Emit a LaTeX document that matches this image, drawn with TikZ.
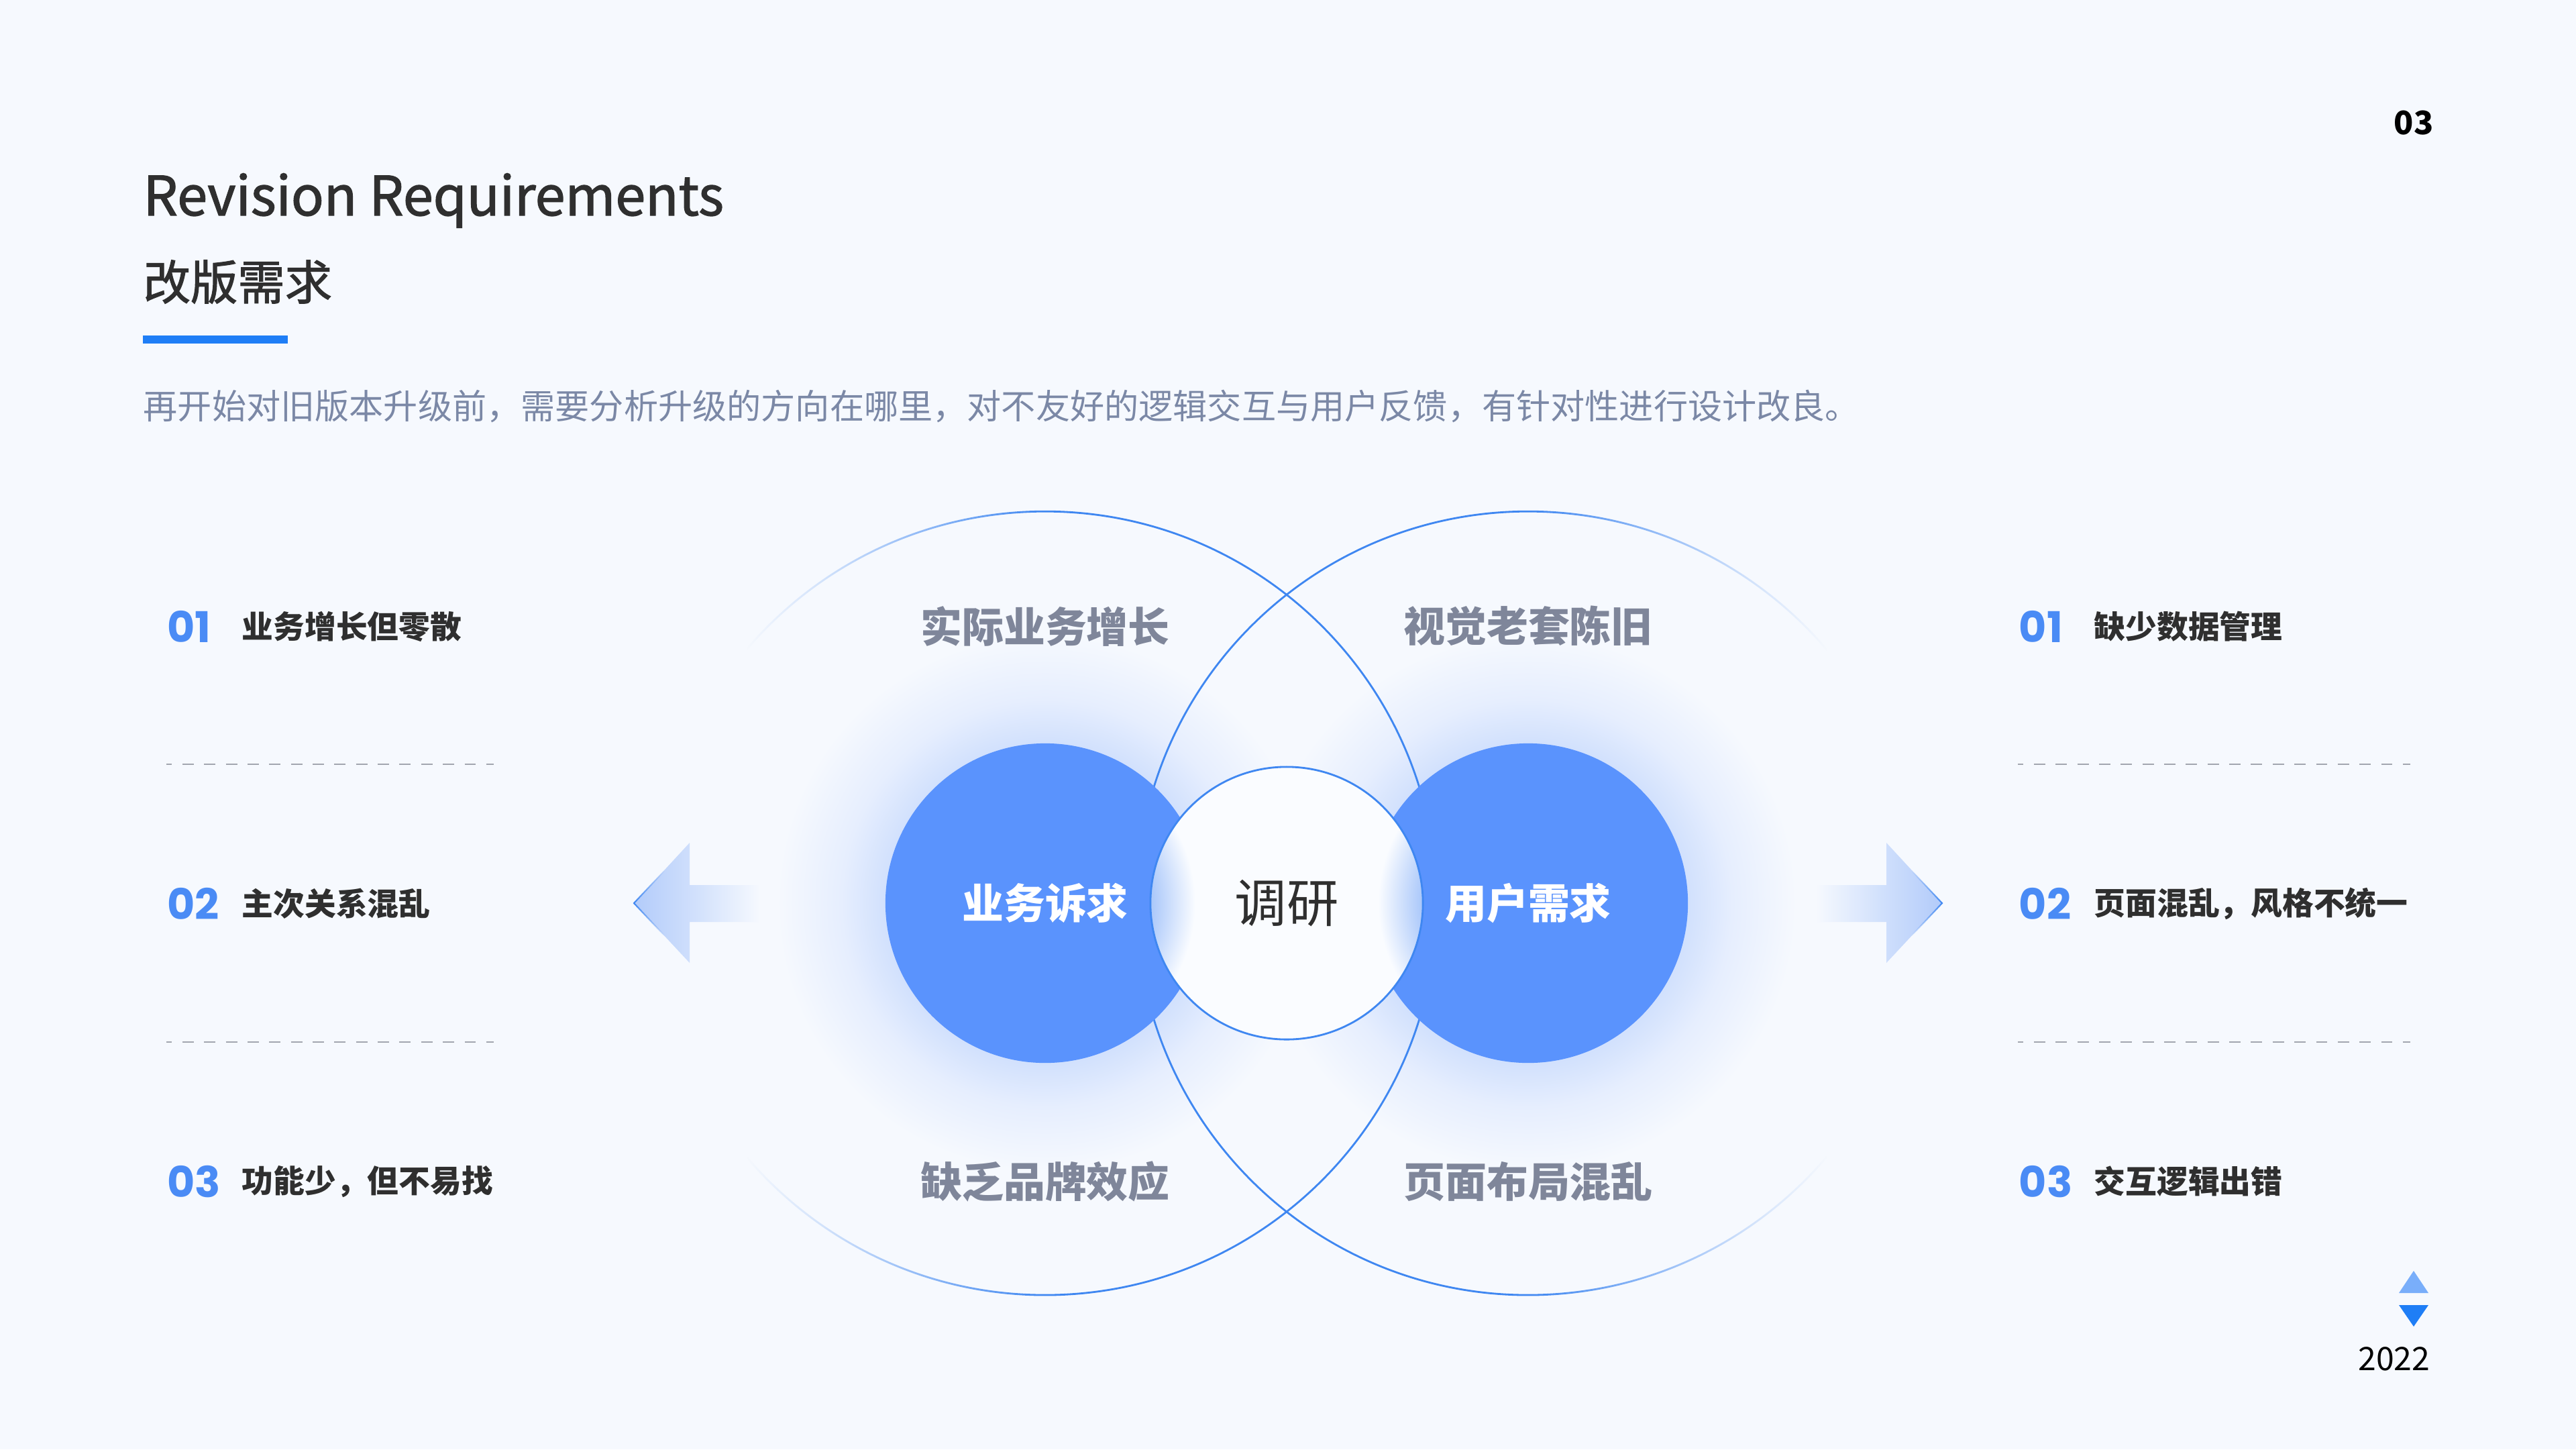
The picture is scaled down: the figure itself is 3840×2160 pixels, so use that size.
\documentclass[tikz,border=0pt]{standalone}
\usepackage{fontspec}
\setmainfont{Noto Sans CJK SC}
\newfontfamily\numfont{Poppins}
\newfontfamily\headfont{Noto Sans CJK SC}[FakeBold=1.6]
\usepackage{xcolor}
\usepackage{tikz}
\usetikzlibrary{fadings}
\definecolor{bgc}{HTML}{F6F9FE}
\definecolor{inkOne}{HTML}{2F2F2F}
\definecolor{inkTwo}{HTML}{7B88A6}
\definecolor{inkThree}{HTML}{7F869A}
\definecolor{barc}{HTML}{1F7EF6}
\definecolor{numc}{HTML}{4A8BF5}
\definecolor{ringc}{HTML}{3F87F1}
\definecolor{discc}{HTML}{5A93FD}
\definecolor{glowc}{HTML}{D2E1FD}
\definecolor{glowd}{HTML}{E6EEFE}
\definecolor{lensc}{HTML}{A9C7FA}
\definecolor{centc}{HTML}{FAFCFF}
\definecolor{arrA}{HTML}{B2CBFA}
\definecolor{arrB}{HTML}{D2E1FC}
\definecolor{dashc}{HTML}{A2A6AF}
\definecolor{triUp}{HTML}{79AEFA}
\pgfdeclareradialshading{glow}{\pgfpoint{0bp}{0bp}}{color(0bp)=(glowc); color(15bp)=(glowc); color(19bp)=(glowd);
  color(25bp)=(bgc); color(50bp)=(bgc)}
\pgfdeclareradialshading{lens}{\pgfpoint{0bp}{0bp}}{color(0bp)=(lensc); color(16.5bp)=(lensc); color(23.5bp)=(centc); color(50bp)=(centc)}
% ring masks: black = transparent, white = opaque
\pgfdeclarehorizontalshading{ringmaskL}{100bp}{color(0bp)=(black); color(31bp)=(black); color(36bp)=(black!80!white);
  color(43bp)=(black!40!white); color(50bp)=(white); color(100bp)=(white)}
\pgfdeclarehorizontalshading{ringmaskR}{100bp}{color(0bp)=(white); color(50bp)=(white); color(57bp)=(black!40!white);
  color(64bp)=(black!80!white); color(69bp)=(black); color(100bp)=(black)}
\pgfdeclarefading{ringL}{\pgfuseshading{ringmaskL}}
\pgfdeclarefading{ringR}{\pgfuseshading{ringmaskR}}
\tikzfading[name=toright, left color=transparent!0, right color=transparent!100]
\tikzfading[name=toleft, left color=transparent!100, right color=transparent!0]
\tikzset{
  headline/.style={font=\headfont\fontsize{23}{27}\selectfont, text=inkOne, inner sep=0pt},
  headcn/.style={font=\headfont\fontsize{20}{24}\selectfont, text=inkOne, inner sep=0pt},
  lead/.style={font=\fontsize{14.55}{17}\selectfont, text=inkTwo, inner sep=0pt},
  numlbl/.style={font=\numfont\bfseries\fontsize{18}{20}\selectfont, text=numc, inner sep=0pt},
  itemlbl/.style={font=\bfseries\fontsize{13.3}{16}\selectfont, text=inkOne, inner sep=0pt},
  sep/.style={draw=dashc, line width=0.7pt, dash pattern=on 4.8pt off 4.4pt, dash phase=2.4pt},
  ringlbl/.style={font=\bfseries\fontsize{17.6}{20}\selectfont, text=inkThree, inner sep=0pt},
  disc/.style={circle, fill=discc, minimum size=4.76cm, inner sep=0pt, text=white,
    font=\bfseries\fontsize{17.6}{20}\selectfont},
  pagelbl/.style={font=\fontsize{13.7}{16}\selectfont, text=black, inner sep=0pt},
}

\begin{document}
\begin{tikzpicture}[x=0.01cm, y=0.01cm]
  \useasboundingbox[fill=bgc] (0,0) rectangle (3840,-2160);
  % ---- heading
  \node[headline, anchor=base west] (title) at (213,-321) {Revision Requirements};
  \node[headcn, anchor=west] (titlecn) at (213,-420) {改版需求};
  \fill[barc] (213,-500) rectangle (429,-512);
  \node[lead, anchor=west] (lead) at (213,-606)
    {再开始对旧版本升级前，需要分析升级的方向在哪里，对不友好的逻辑交互与用户反馈，有针对性进行设计改良。};
  \node[pagelbl, font=\bfseries\fontsize{13.7}{16}\selectfont] (page) at (3598,-183) {03};

  % ---- glow behind the two discs
  \foreach \cx in {1558, 2278}
    \shade[shading=glow] (\cx,-1346) circle[radius=400];
  % ---- two large rings, fading outwards
  \draw[ringc, line width=0.8pt, path fading=ringL] (1558,-1346) circle[radius=584];
  \draw[ringc, line width=0.8pt, path fading=ringR] (2278,-1346) circle[radius=584];
  \foreach \n/\x/\y/\t in {a/1558/933/实际业务增长, b/2278/933/视觉老套陈旧,
      c/1558/1761/缺乏品牌效应, d/2278/1761/页面布局混乱}
    \node[ringlbl] (ring\n) at (\x,-\y) {\t};

  % ---- discs and the middle circle
  \node[disc] (biz) at (1558,-1346) {业务诉求};
  \node[disc] (user) at (2278,-1346) {用户需求};
  \fill[centc] (1918,-1346) circle[radius=203];
  \begin{scope}
    \clip (1918,-1346) circle[radius=203];
    \shade[shading=lens] (biz.center) circle[radius=238];
    \shade[shading=lens] (user.center) circle[radius=238];
  \end{scope}
  \node[circle, draw=ringc, line width=0.8pt, minimum size=4.06cm, inner sep=0pt, text=inkOne,
    font=\fontsize{22}{26}\selectfont] (survey) at (1918,-1346) {调研};

  % ---- side arrows
  \shade[left color=arrA, right color=bgc, middle color=arrB]
    (945,-1346) -- (1028,-1256) -- (1028,-1319) -- (1133,-1319) -- (1133,-1374) -- (1028,-1374) -- (1028,-1435) -- cycle;
  \draw[ringc, line width=0.6pt, path fading=toright] (990,-1298) -- (945,-1346) -- (990,-1394);
  \shade[left color=bgc, right color=arrA, middle color=arrB]
    (2895,-1346) -- (2812,-1256) -- (2812,-1319) -- (2707,-1319) -- (2707,-1374) -- (2812,-1374) -- (2812,-1435) -- cycle;
  \draw[ringc, line width=0.6pt, path fading=toleft] (2850,-1298) -- (2895,-1346) -- (2850,-1394);

  % ---- left and right lists
  \foreach \i/\y/\t in {1/934/业务增长但零散, 2/1347/主次关系混乱, 3/1761/{功能少，但不易找}} {
    \node[numlbl, anchor=west] (ln\i) at (249,-\y) {0\i};
    \node[itemlbl, anchor=west] (lt\i) at (360,-\y) {\t};
  }
  \foreach \i/\y/\t in {1/934/缺少数据管理, 2/1347/{页面混乱，风格不统一}, 3/1761/交互逻辑出错} {
    \node[numlbl, anchor=west] (rn\i) at (3009,-\y) {0\i};
    \node[itemlbl, anchor=west] (rt\i) at (3121,-\y) {\t};
  }
  \foreach \y in {1139, 1553} {
    \draw[sep] (248,-\y) -- (736,-\y);
    \draw[sep] (3008,-\y) -- (3593,-\y);
  }

  % ---- year marker
  \fill[triUp] (3576,-1927) -- (3598,-1894) -- (3620,-1927) -- cycle;
  \fill[barc] (3576,-1945) -- (3620,-1945) -- (3598,-1977) -- cycle;
  \node[pagelbl, anchor=east] (year) at (3623,-2025) {2022};
\end{tikzpicture}
\end{document}
